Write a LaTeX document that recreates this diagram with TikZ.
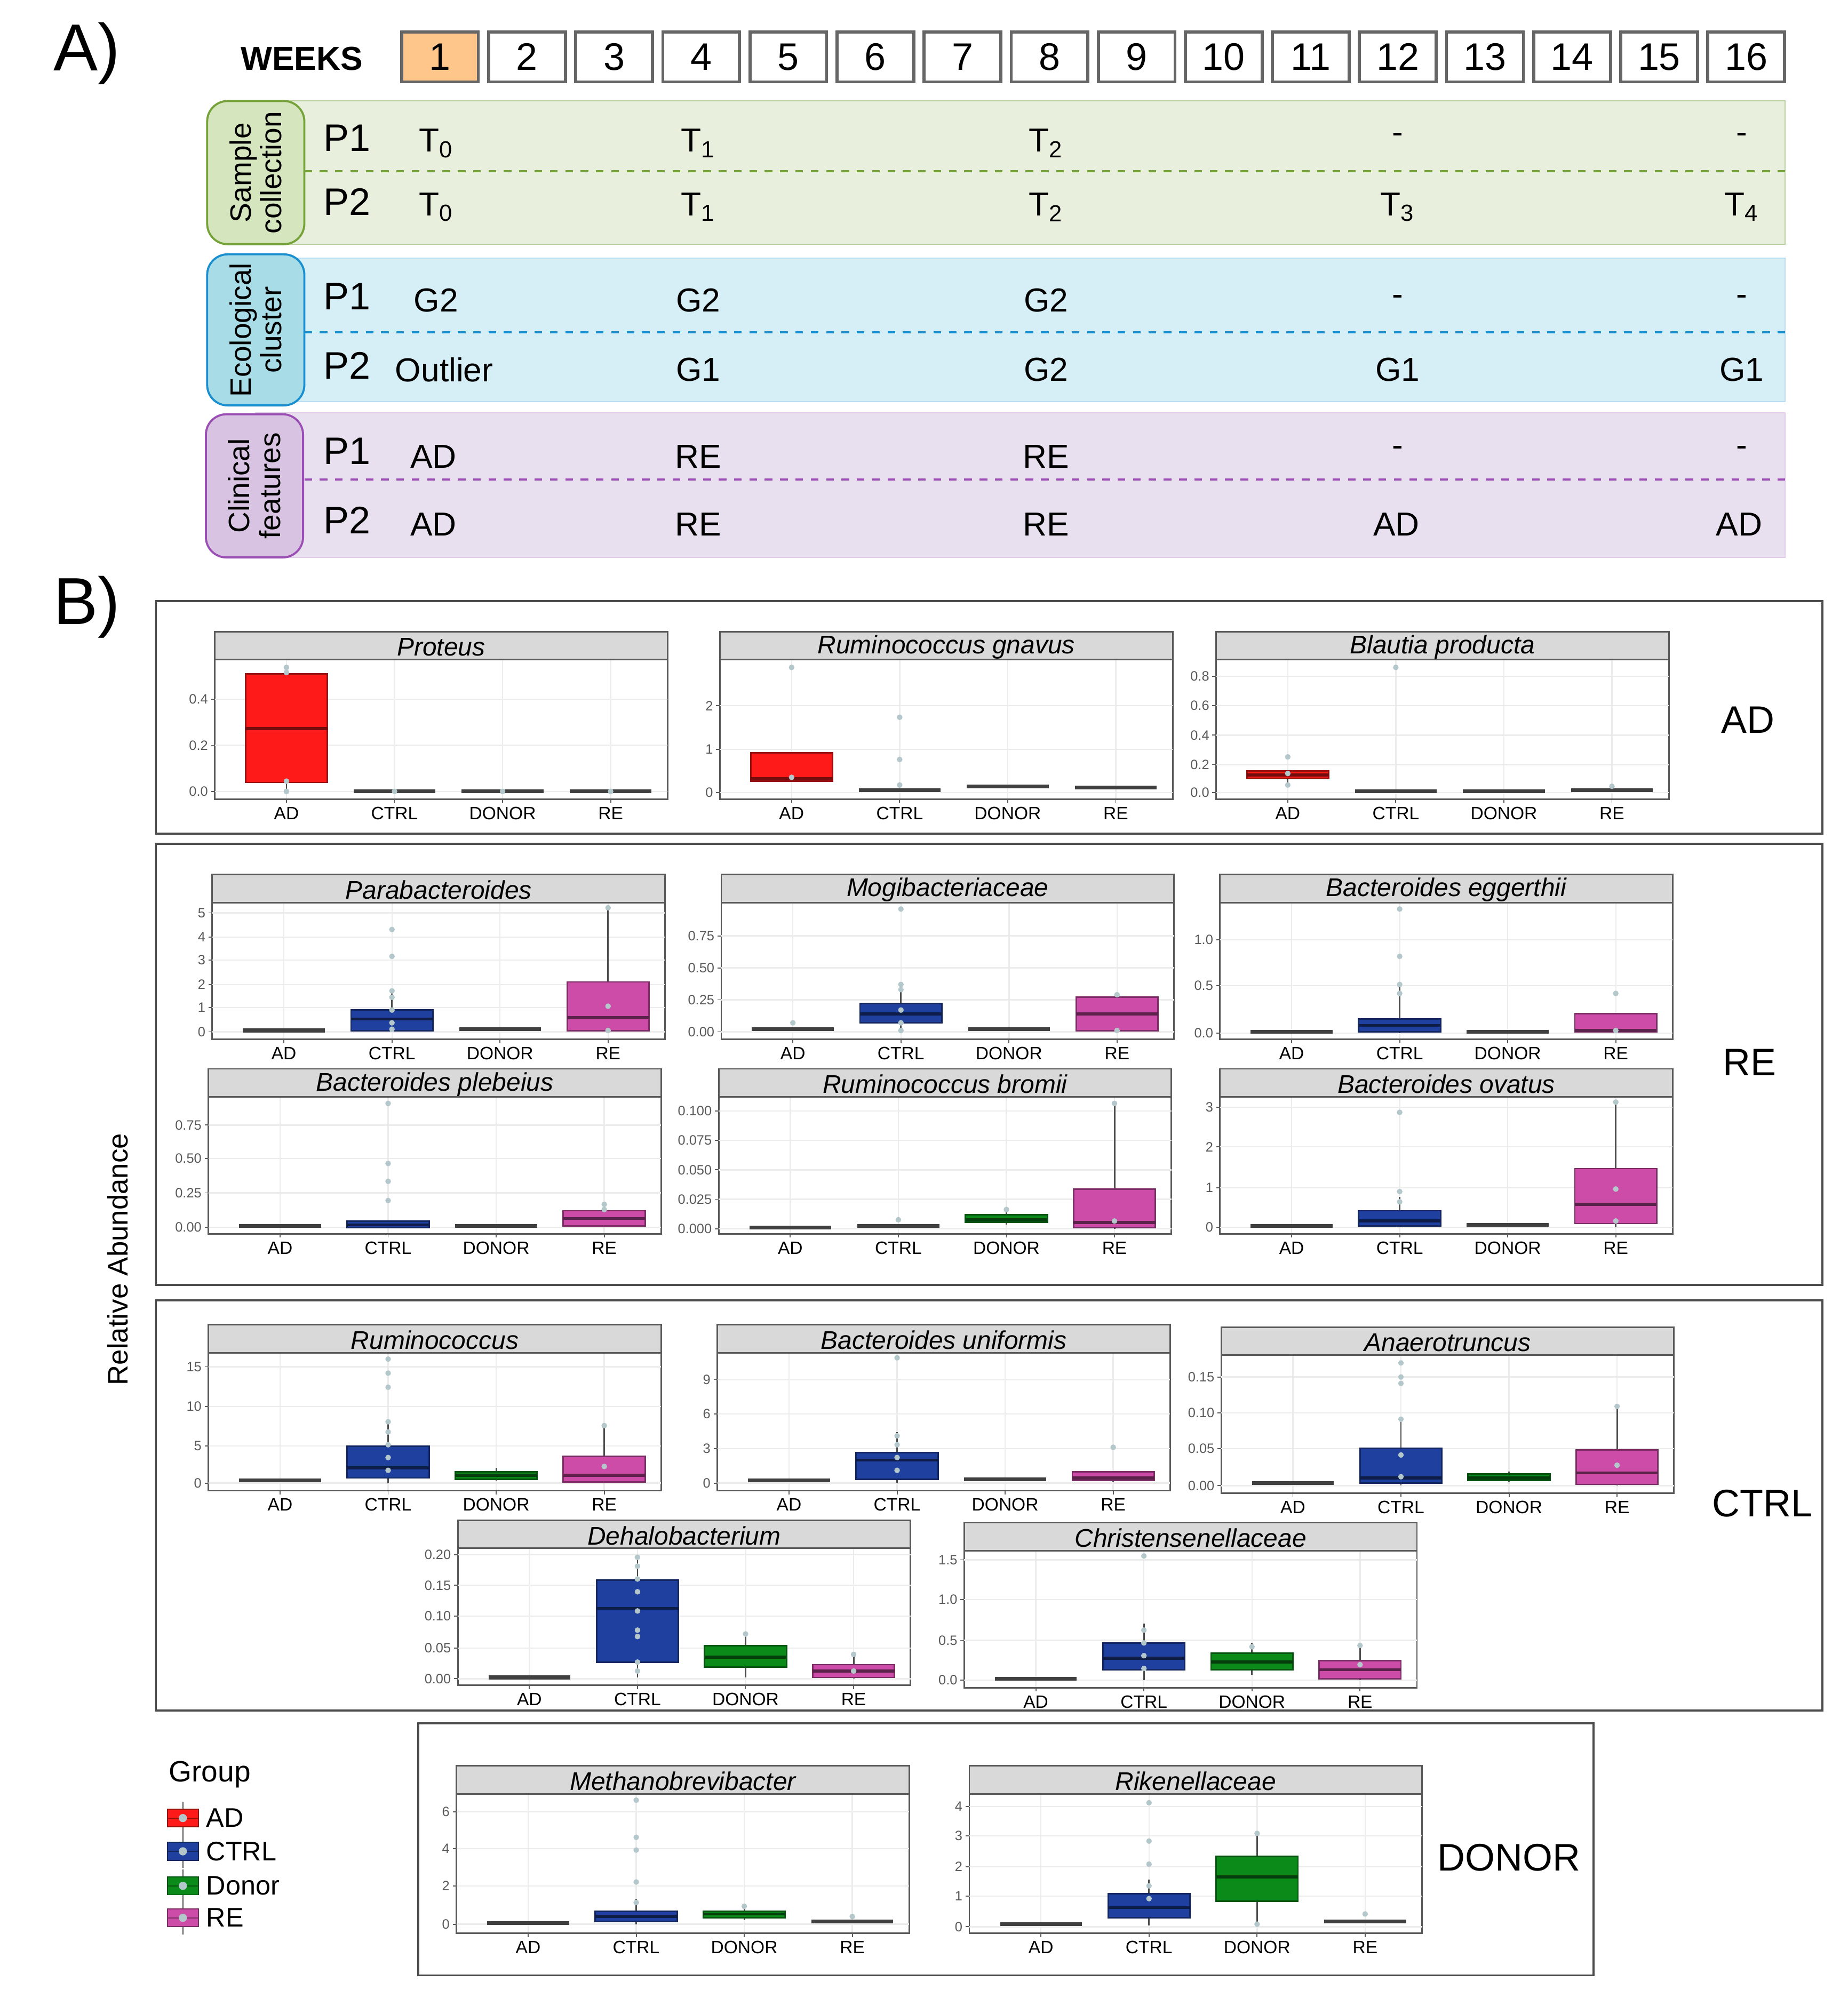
\documentclass[tikz,border=0pt]{standalone}
\usepackage{fontspec}
\setmainfont{Liberation Sans}
\begin{document}
\definecolor{cAD}{HTML}{FF1A1A}
\definecolor{cCT}{HTML}{2040A0}
\definecolor{cDO}{HTML}{0B8A1A}
\definecolor{cRE}{HTML}{CC4CA8}
\definecolor{gfill}{HTML}{E9EFDD}\definecolor{gtag}{HTML}{D5E5BD}\definecolor{gline}{HTML}{76A23A}
\definecolor{bfill}{HTML}{D6EEF5}\definecolor{btag}{HTML}{A8DDE8}\definecolor{bline}{HTML}{1A8FD0}
\definecolor{pfill}{HTML}{E8E0EE}\definecolor{ptag}{HTML}{D8C4E2}\definecolor{pline}{HTML}{9B4FB5}
\definecolor{ptc}{HTML}{B4C8CC}
\begin{tikzpicture}[x=0.5pt,y=-0.5pt,
  week/.style={draw=gray!80!black,line width=1.2pt,minimum width=30pt,minimum height=19.5pt,inner sep=0pt,font=\fontsize{15}{15}\selectfont},
  pl/.style={font=\fontsize{15}{15}\selectfont,anchor=west},
  tv/.style={font=\fontsize{13}{13}\selectfont},
  tag/.style={rounded corners=8pt,line width=0.8pt},
  ttl/.style={font=\itshape\fontsize{10}{10}\selectfont},
  xl/.style={font=\fontsize{7}{7}\selectfont},
  yl/.style={font=\fontsize{5.3}{5.3}\selectfont,text=gray!70!black,anchor=east,inner sep=1pt},
  grp/.style={font=\fontsize{15}{15}\selectfont},
  gridc/.style={gray!15,line width=0.5pt},
  gbox/.style={draw=black!70,line width=0.8pt}]
\useasboundingbox (0,0) rectangle (1445,1569);
% ---------------- Panel A
\node[font=\fontsize{26}{26}\selectfont] (lA) at (68,42) {A)};
\node[font=\bfseries\fontsize{13}{13}\selectfont] (wk) at (236,46) {WEEKS};
\foreach \i in {1,...,16} \node[week] (w\i) at ({344+(\i-1)*68.1},44.5) {\i};
\node[week,fill=orange!45] (w1) at (344,44.5) {1};
% band 1
\fill[gfill,draw=gline!50] (200,79) rectangle (1396,191);
\draw[gline,dashed,line width=0.9pt] (238,134) -- (1396,134);
\node[tag,fill=gtag,draw=gline,minimum width=56pt,minimum height=38pt,rotate=90,align=center,font=\fontsize{11.5}{12}\selectfont] (t1) at (200,135) {Sample\\collection};
% band 2
\fill[bfill,draw=bline!30] (200,202) rectangle (1396,314);
\draw[bline,dashed,line width=0.9pt] (238,260) -- (1396,260);
\node[tag,fill=btag,draw=bline,minimum width=56pt,minimum height=38pt,rotate=90,align=center,font=\fontsize{11.5}{12}\selectfont] (t2) at (200,258) {Ecological\\cluster};
% band 3
\fill[pfill,draw=pline!30] (200,323) rectangle (1396,436);
\draw[pline,dashed,line width=0.9pt] (238,375) -- (1396,375);
\node[tag,fill=ptag,draw=pline,minimum width=56pt,minimum height=38pt,rotate=90,align=center,font=\fontsize{11.5}{12}\selectfont] (t3) at (199,380) {Clinical\\features};
% rows
\foreach \y/\p [count=\n] in {108/P1,158/P2,232/P1,286/P2,353/P1,407/P2} \node[pl] (p\n) at (246,\y) {\p};
\node[tv] (a1) at (341,112) {T\textsubscript{0}};
\node[tv] (a2) at (546,112) {T\textsubscript{1}};
\node[tv] (a3) at (818,112) {T\textsubscript{2}};
\node[tv] (a4) at (1093,108) {-};
\node[tv] (a5) at (1362,108) {-};
\node[tv] (b1) at (341,162) {T\textsubscript{0}};
\node[tv] (b2) at (546,162) {T\textsubscript{1}};
\node[tv] (b3) at (818,162) {T\textsubscript{2}};
\node[tv] (b4) at (1093,162) {T\textsubscript{3}};
\node[tv] (b5) at (1362,162) {T\textsubscript{4}};
\node[tv] (c1) at (341,235) {G2};
\node[tv] (c2) at (546,235) {G2};
\node[tv] (c3) at (818,235) {G2};
\node[tv] (c4) at (1093,235) {-};
\node[tv] (c5) at (1362,235) {-};
\node[tv,anchor=west] (d1) at (302,289) {Outlier};
\node[tv] (d2) at (546,289) {G1};
\node[tv] (d3) at (818,289) {G2};
\node[tv] (d4) at (1093,289) {G1};
\node[tv] (d5) at (1362,289) {G1};
\node[tv] (e1) at (339,357) {AD};
\node[tv] (e2) at (546,357) {RE};
\node[tv] (e3) at (818,357) {RE};
\node[tv] (e4) at (1093,353) {-};
\node[tv] (e5) at (1362,353) {-};
\node[tv] (f1) at (339,410) {AD};
\node[tv] (f2) at (546,410) {RE};
\node[tv] (f3) at (818,410) {RE};
\node[tv] (f4) at (1092,410) {AD};
\node[tv] (f5) at (1360,410) {AD};
% ---------------- Panel B
\node[font=\fontsize{26}{26}\selectfont] (lB) at (68,475) {B)};
\draw[gbox] (122,470) rectangle (1425,652);
\draw[gbox] (122,660) rectangle (1425,1005);
\draw[gbox] (122,1017) rectangle (1425,1338);
\draw[gbox] (327,1348) rectangle (1246,1545);
\node[grp] (gAD) at (1367,563) {AD};
\node[grp] (gRE) at (1368,831) {RE};
\node[grp] (gCT) at (1378,1176) {CTRL};
\node[grp] (gDO) at (1180,1453) {DONOR};
\node[rotate=90,font=\fontsize{11}{11}\selectfont] (ra) at (92,985) {Relative Abundance};
% legend
\node[font=\fontsize{11.5}{11.5}\selectfont,anchor=west] (lg) at (125,1388) {Group};
\foreach \c/\t/\y [count=\n] in {cAD/AD/1422,cCT/CTRL/1448,cDO/Donor/1475,cRE/RE/1500}{
  \draw[gray!60!black] (143,\y-13) -- (143,\y+13);
  \fill[\c,draw=\c!60!black] (131,\y-7) rectangle (155,\y+7);
  \draw[\c!60!black] (131,\y) -- (155,\y);
  \fill[ptc] (143,\y) circle (1.6pt);
  \node[font=\fontsize{10.5}{10.5}\selectfont,anchor=west,inner sep=0pt] (lgi\n) at (161,\y) {\t};
}
% macros
\newcommand\Mpanel[5]{% id, x0, striptop, plotbottom, title
  \fill[white] (#2,#3+22) rectangle (#2+354,#4);
  \foreach \k in {0,...,3} \draw[gridc] ({#2+56+\k*84.5},#3+22) -- ({#2+56+\k*84.5},#4);
  \fill[gray!30,draw=gray!70!black,line width=0.6pt] (#2,#3) rectangle (#2+354,#3+22);
  \node[ttl] (#1) at (#2+177,#3+12) {#5};
  \draw[gray!70!black,line width=0.6pt] (#2,#3+22) rectangle (#2+354,#4);
  \foreach \g [count=\k from 0] in {AD,CTRL,DONOR,RE}{
    \draw[gray!70!black] ({#2+56+\k*84.5},#4) -- ({#2+56+\k*84.5},#4+3);
    \node[xl] (#1x\k) at ({#2+56+\k*84.5},#4+11) {\g};}
}
\newcommand\Myt[3]{% x0, unused, list
  \foreach \v/\y in {#3}{\draw[gridc] (#1,\y) -- (#1+354,\y);
    \draw[gray!70!black] (#1-3,\y) -- (#1,\y);
    \node[yl] at (#1-3,\y) {\v};}
}
\newcommand\Mbx[8]{% x0,k,color,q3,med,q1,wtop,wbot
  \pgfmathsetmacro\cx{#1+56+#2*84.5}
  \draw[black!70,line width=0.6pt] (\cx,#7) -- (\cx,#8);
  \fill[#3,draw=#3!60!black,line width=0.6pt] (\cx-32,#4) rectangle (\cx+32,#6);
  \draw[#3!45!black,line width=1.2pt] (\cx-32,#5) -- (\cx+32,#5);
}
\newcommand\Mflat[3]{%
  \pgfmathsetmacro\cx{#1+56+#2*84.5}
  \draw[black!75,line width=1.5pt] (\cx-32,#3) -- (\cx+32,#3);
}
\newcommand\Mpts[3]{%
  \pgfmathsetmacro\cx{#1+56+#2*84.5}
  \foreach \p in {#3} \fill[ptc] (\cx,\p) circle (1.1pt);
}
% ---- AD row
\Mpanel{pro}{168}{494}{625}{Proteus}
\Myt{168}{}{0.0/619,0.2/583,0.4/547}
\Mbx{168}{0}{cAD}{527}{570}{612}{521}{620}
\Mpts{168}{0}{522,526,611,619}
\Mflat{168}{1}{619}\Mflat{168}{2}{619}\Mflat{168}{3}{619}
\Mpts{168}{1}{619}\Mpts{168}{2}{619}\Mpts{168}{3}{619}

\Mpanel{rgn}{563}{494}{625}{Ruminococcus gnavus}
\Myt{563}{}{0/620,1/586,2/552}
\Mbx{563}{0}{cAD}{589}{609}{611}{589}{611}
\Mpts{563}{0}{522,608}
\Mflat{563}{1}{618}\Mflat{563}{2}{615}\Mflat{563}{3}{616}
\Mpts{563}{1}{561,594,614}

\Mpanel{bpr}{951}{494}{625}{Blautia producta}
\Myt{951}{}{0.0/620,0.2/598,0.4/575,0.6/552,0.8/529}
\Mbx{951}{0}{cAD}{603}{606}{609}{603}{612}
\Mpts{951}{0}{592,605,614}
\Mflat{951}{1}{619}\Mflat{951}{2}{619}\Mflat{951}{3}{618}
\Mpts{951}{1}{522}\Mpts{951}{3}{615}
% ---- RE rows
\Mpanel{par}{166}{684}{813}{Parabacteroides}
\Myt{166}{}{0/807,1/788,2/770,3/751,4/733,5/714}
\Mflat{166}{0}{806}
\Mbx{166}{1}{cCT}{790}{797}{806}{773}{807}
\Mpts{166}{1}{727,748,775,780,790,800,805}
\Mflat{166}{2}{805}
\Mbx{166}{3}{cRE}{768}{796}{806}{710}{807}
\Mpts{166}{3}{710,787,806}

\Mpanel{mog}{564}{684}{813}{Mogibacteriaceae}
\Myt{564}{}{0.00/807,0.25/782,0.50/757,0.75/732}
\Mflat{564}{0}{805}\Mpts{564}{0}{800}
\Mbx{564}{1}{cCT}{785}{793}{800}{770}{808}
\Mpts{564}{1}{711,770,774,790,800,806}
\Mflat{564}{2}{805}
\Mbx{564}{3}{cRE}{780}{793}{806}{778}{807}
\Mpts{564}{3}{778,806}

\Mpanel{beg}{954}{684}{813}{Bacteroides eggerthii}
\Myt{954}{}{0.0/808,0.5/771,1.0/735}
\Mflat{954}{0}{807}
\Mbx{954}{1}{cCT}{797}{802}{807}{770}{808}
\Mpts{954}{1}{711,748,770,777}
\Mflat{954}{2}{807}
\Mbx{954}{3}{cRE}{793}{806}{807}{793}{807}
\Mpts{954}{3}{777,806}

\Mpanel{bpl}{163}{836}{965}{Bacteroides plebeius}
\Myt{163}{}{0.00/960,0.25/933,0.50/906,0.75/880}
\Mflat{163}{0}{959}
\Mbx{163}{1}{cCT}{955}{958}{960}{955}{960}
\Mpts{163}{1}{863,910,924,939}
\Mflat{163}{2}{959}
\Mbx{163}{3}{cRE}{947}{953}{959}{940}{960}
\Mpts{163}{3}{942,946}

\Mpanel{rbr}{562}{836}{965}{Ruminococcus bromii}
\Myt{562}{}{0.000/961,0.025/938,0.050/915,0.075/892,0.100/869}
\Mflat{562}{0}{960}
\Mflat{562}{1}{959}\Mpts{562}{1}{954}
\Mbx{562}{2}{cDO}{950}{954}{956}{946}{958}
\Mpts{562}{2}{946}
\Mbx{562}{3}{cRE}{930}{956}{960}{863}{961}
\Mpts{562}{3}{863,955}

\Mpanel{bov}{954}{836}{965}{Bacteroides ovatus}
\Myt{954}{}{0/960,1/929,2/897,3/866}
\Mflat{954}{0}{959}
\Mbx{954}{1}{cCT}{947}{955}{959}{936}{960}
\Mpts{954}{1}{870,932,940}
\Mflat{954}{2}{958}
\Mbx{954}{3}{cRE}{914}{942}{957}{862}{960}
\Mpts{954}{3}{862,930,955}
% ---- CTRL rows
\Mpanel{rum}{163}{1036}{1166}{Ruminococcus}
\Myt{163}{}{0/1160,5/1131,10/1100,15/1069}
\Mflat{163}{0}{1158}
\Mbx{163}{1}{cCT}{1131}{1148}{1156}{1112}{1160}
\Mpts{163}{1}{1063,1074,1085,1112,1120,1130,1140,1150}
\Mbx{163}{2}{cDO}{1151}{1154}{1157}{1148}{1158}
\Mbx{163}{3}{cRE}{1139}{1154}{1159}{1115}{1160}
\Mpts{163}{3}{1115,1147}

\Mpanel{bun}{561}{1036}{1166}{Bacteroides uniformis}
\Myt{561}{}{0/1160,3/1133,6/1106,9/1079}
\Mflat{561}{0}{1158}
\Mbx{561}{1}{cCT}{1136}{1142}{1157}{1120}{1160}
\Mpts{561}{1}{1062,1123,1130,1140,1150}
\Mflat{561}{2}{1157}
\Mbx{561}{3}{cRE}{1151}{1156}{1158}{1151}{1159}
\Mpts{561}{3}{1132}

\Mpanel{ana}{955}{1038}{1168}{Anaerotruncus}
\Myt{955}{}{0.00/1162,0.05/1133,0.10/1105,0.15/1077}
\Mflat{955}{0}{1160}
\Mbx{955}{1}{cCT}{1133}{1156}{1160}{1110}{1162}
\Mpts{955}{1}{1066,1077,1082,1110,1138,1155}
\Mbx{955}{2}{cDO}{1153}{1156}{1158}{1151}{1159}
\Mbx{955}{3}{cRE}{1134}{1152}{1161}{1100}{1162}
\Mpts{955}{3}{1100,1146}

\Mpanel{deh}{358}{1189}{1318}{Dehalobacterium}
\Myt{358}{}{0.00/1313,0.05/1289,0.10/1264,0.15/1240,0.20/1216}
\Mflat{358}{0}{1312}
\Mbx{358}{1}{cCT}{1236}{1258}{1300}{1218}{1312}
\Mpts{358}{1}{1218,1225,1235,1245,1260,1275,1280,1300,1307}
\Mbx{358}{2}{cDO}{1287}{1296}{1304}{1278}{1312}
\Mpts{358}{2}{1278}
\Mbx{358}{3}{cRE}{1302}{1307}{1312}{1294}{1313}
\Mpts{358}{3}{1294,1307}

\Mpanel{chr}{754}{1191}{1320}{Christensenellaceae}
\Myt{754}{}{0.0/1314,0.5/1283,1.0/1251,1.5/1220}
\Mflat{754}{0}{1313}
\Mbx{754}{1}{cCT}{1285}{1297}{1306}{1270}{1314}
\Mpts{754}{1}{1217,1275,1285,1295,1305}
\Mbx{754}{2}{cDO}{1293}{1300}{1306}{1285}{1310}
\Mpts{754}{2}{1288}
\Mbx{754}{3}{cRE}{1299}{1306}{1313}{1287}{1314}
\Mpts{754}{3}{1287,1302}
% ---- DONOR row
\Mpanel{met}{357}{1381}{1512}{Methanobrevibacter}
\Myt{357}{}{0/1505,2/1475,4/1446,6/1417}
\Mflat{357}{0}{1504}
\Mbx{357}{1}{cCT}{1495}{1499}{1503}{1485}{1505}
\Mpts{357}{1}{1408,1437,1447,1472,1488}
\Mbx{357}{2}{cDO}{1495}{1497}{1500}{1491}{1502}
\Mpts{357}{2}{1491}
\Mflat{357}{3}{1503}\Mpts{357}{3}{1499}

\Mpanel{rik}{758}{1381}{1512}{Rikenellaceae}
\Myt{758}{}{0/1507,1/1483,2/1460,3/1436,4/1413}
\Mflat{758}{0}{1505}
\Mbx{758}{1}{cCT}{1481}{1492}{1500}{1470}{1506}
\Mpts{758}{1}{1410,1440,1458,1475,1485}
\Mbx{758}{2}{cDO}{1452}{1468}{1487}{1434}{1505}
\Mpts{758}{2}{1434,1505}
\Mflat{758}{3}{1503}\Mpts{758}{3}{1497}
\end{tikzpicture}
\end{document}
